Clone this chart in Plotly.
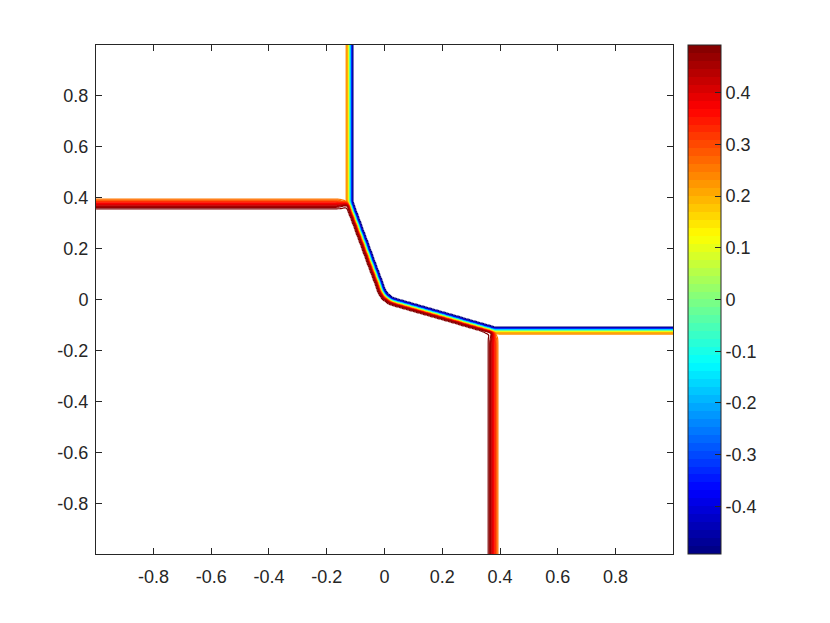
import numpy as np
import plotly.graph_objects as go

# ---------------- data ----------------
# plateau values of the four regions
val_top_right = -0.492
val_top_left = 0.24
val_bottom_left = 0.492
val_bottom_right = 0.24

# straight interfaces
x_top_interface = -0.121      # vertical interface above the upper junction
y_left_interface = 0.376      # horizontal interface left of the upper junction
x_bottom_interface = 0.376    # vertical interface below the lower junction
y_right_interface = -0.121    # horizontal interface right of the lower junction

# curved interface joining the two junctions (control polygon)
curve_x = [-0.121, -0.024, 0.001, 0.077, 0.376]
curve_y = [0.376, 0.077, 0.001, -0.024, -0.121]

x_range = [-0.999, 0.999]
y_range = [-0.999, 0.999]

axis_ticks = [-0.8, -0.6, -0.4, -0.2, 0, 0.2, 0.4, 0.6, 0.8]
axis_ticktext = ["-0.8", "-0.6", "-0.4", "-0.2", "0", "0.2", "0.4", "0.6", "0.8"]
cbar_ticks = [-0.4, -0.3, -0.2, -0.1, 0, 0.1, 0.2, 0.3, 0.4]
cbar_ticktext = ["-0.4", "-0.3", "-0.2", "-0.1", "0", "0.1", "0.2", "0.3", "0.4"]
c_min, c_max = -0.492, 0.492


# ---------------- smooth the curve's corners (Chaikin) ----------------
def chaikin(px, py, n):
    px, py = list(px), list(py)
    for _ in range(n):
        nx, ny = [px[0]], [py[0]]
        for i in range(len(px) - 1):
            nx += [0.75 * px[i] + 0.25 * px[i + 1], 0.25 * px[i] + 0.75 * px[i + 1]]
            ny += [0.75 * py[i] + 0.25 * py[i + 1], 0.25 * py[i] + 0.75 * py[i + 1]]
        nx.append(px[-1]); ny.append(py[-1])
        px, py = nx, ny
    return np.array(px), np.array(py)


cx, cy = chaikin(curve_x, curve_y, 5)

# ---------------- field on a grid (about one cell per pixel) ----------------
NX, NY = 578, 510
gx = np.linspace(x_range[0], x_range[1], NX)
gy = np.linspace(y_range[0], y_range[1], NY)
X, Y = np.meshgrid(gx, gy)
yc = np.interp(X, cx, cy)

q1 = (X >= x_top_interface) & (Y >= y_right_interface) & (Y > yc)
q2 = (~q1) & (X < x_top_interface) & (Y > y_left_interface)
q4 = (~q1) & (Y < y_right_interface) & (X > x_bottom_interface)
sharp = np.full(X.shape, val_bottom_left)
sharp[q1] = val_top_right
sharp[q2] = val_top_left
sharp[q4] = val_bottom_right


def blur(a, k):
    k = np.asarray(k, float)
    k = k / k.sum()
    r = len(k) // 2
    p = np.pad(a, r, mode="edge")
    out = np.apply_along_axis(lambda v: np.convolve(v, k, mode="valid"), 1, p)
    out = np.apply_along_axis(lambda v: np.convolve(v, k, mode="valid"), 0, out)
    return out


def gauss(s):
    r = int(np.ceil(4 * s))
    return np.exp(-0.5 * (np.arange(-r, r + 1) / s) ** 2)


z_narrow = blur(blur(sharp, np.ones(5)), gauss(0.6))
z_wide = blur(blur(sharp, np.ones(9)), gauss(0.8))
w = blur(((X < -0.15) | (Y < -0.15)).astype(float), gauss(3.0))
z = np.round(w * z_wide + (1 - w) * z_narrow, 5)


# ---------------- MATLAB jet colormap ----------------
def jet(t):
    r = min(max(1.5 - abs(4 * t - 3), 0), 1)
    g = min(max(1.5 - abs(4 * t - 2), 0), 1)
    b = min(max(1.5 - abs(4 * t - 1), 0), 1)
    return "rgb(%d,%d,%d)" % (round(r * 255), round(g * 255), round(b * 255))


jet_cont = [[i / 64, jet(i / 64)] for i in range(65)]
nb = 64
jet_step = []
for i in range(nb):
    c = jet((i + 0.5) / nb)
    jet_step.append([i / nb, c])
    jet_step.append([(i + 1) / nb, c])

axc = "#262626"
font = dict(family="Liberation Sans, Arial, sans-serif", size=18, color=axc)

fig = go.Figure()
fig.add_trace(go.Contour(
    x=gx, y=gy, z=z,
    autocontour=False,
    contours=dict(start=-0.49, end=0.49, size=0.02, coloring="lines"),
    line=dict(width=1.2, smoothing=0),
    colorscale=jet_cont, zauto=False, zmin=c_min, zmax=c_max,
    showscale=False, hoverinfo="skip",
))
fig.add_trace(go.Scatter(
    x=[0, 0], y=[0, 0], mode="markers", hoverinfo="skip", showlegend=False,
    marker=dict(size=1, opacity=0, color=[c_min, c_max], cmin=c_min, cmax=c_max,
                colorscale=jet_step, showscale=True,
                colorbar=dict(x=(688 - 96) / 577, xanchor="left", xpad=0, ypad=0,
                              y=0.5, yanchor="middle", len=1, lenmode="fraction",
                              thickness=33, thicknessmode="pixels",
                              outlinewidth=1, outlinecolor=axc,
                              ticks="inside", ticklen=6, tickcolor=axc,
                              tickvals=cbar_ticks, ticktext=cbar_ticktext,
                              tickfont=font)),
))

axis_common = dict(showline=True, mirror="ticks", linecolor=axc, linewidth=1,
                   ticks="inside", ticklen=6, tickcolor=axc, showgrid=False,
                   zeroline=False, tickvals=axis_ticks, ticktext=axis_ticktext,
                   tickfont=font)
# the page body has an 8 px margin, so the figure is shifted by 8 px
fig.update_layout(
    width=822, height=615,
    margin=dict(l=88, r=157, t=37, b=69),
    paper_bgcolor="white", plot_bgcolor="white",
    xaxis=dict(range=x_range, ticklabelstandoff=6, **axis_common),
    yaxis=dict(range=y_range, ticklabelstandoff=3, **axis_common),
    showlegend=False,
)
fig.write_html("out.html")
